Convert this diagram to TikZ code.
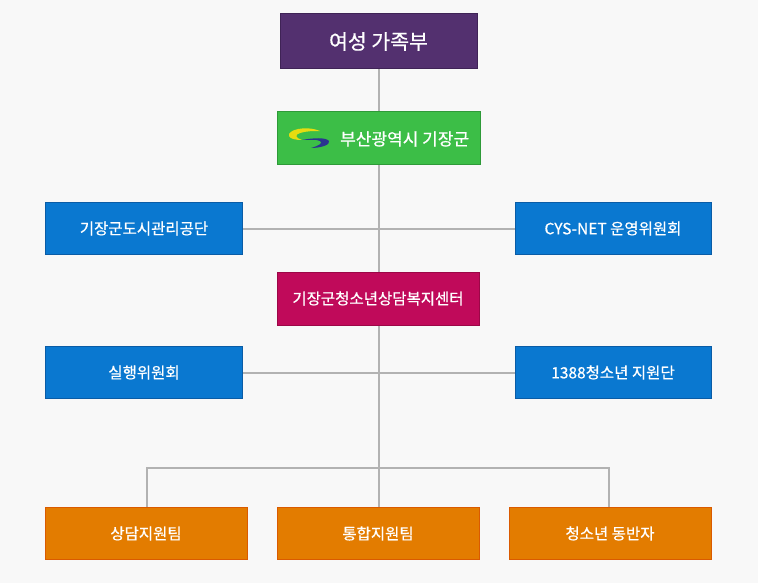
\documentclass[tikz,border=0pt]{standalone}
\usepackage{fontspec}
\usetikzlibrary{backgrounds}
\newfontfamily\kr[FakeBold=0.6]{Noto Sans CJK KR}
\definecolor{bgc}{HTML}{F8F8F8}
\definecolor{purp}{HTML}{53306F}
\definecolor{purpd}{HTML}{3F2356}
\definecolor{grn}{HTML}{3CBE47}
\definecolor{grnd}{HTML}{2E9A38}
\definecolor{blu}{HTML}{0A78D0}
\definecolor{blud}{HTML}{0A5CA6}
\definecolor{mag}{HTML}{C00A5A}
\definecolor{magd}{HTML}{9C0747}
\definecolor{org}{HTML}{E37C00}
\definecolor{orgd}{HTML}{DA5A00}
\definecolor{lin}{HTML}{B2B2B2}
\definecolor{lyel}{HTML}{E6DC10}
\definecolor{lblu}{HTML}{2A3490}
\begin{document}
\begin{tikzpicture}[x=1pt,y=-1pt,
  box/.style={draw, line width=1pt, inner sep=0pt, text=white, font=\kr\fontsize{15.5}{17}\selectfont},
  wide/.style={minimum width=197pt, minimum height=52pt},
  conn/.style={draw=lin, line width=2pt}]
\useasboundingbox (0,0) rectangle (758,583);
\node[box, wide, fill=purp, draw=purpd, minimum height=55pt, font=\kr\fontsize{20.5}{22}\selectfont] (top) at (378.5,41.5) {여성 가족부};
\node[box, fill=grn, draw=grnd, minimum width=203pt, minimum height=53pt] (gun) at (378.5,138.5) {};
\node[box, wide, fill=blu, draw=blud] (l1) at (144,228.5) {기장군도시관리공단};
\node[box, wide, fill=blu, draw=blud, minimum width=196pt] (r1) at (613,228.5) {CYS-NET 운영위원회};
\node[box, fill=mag, draw=magd, minimum width=202pt, minimum height=53pt] (ctr) at (378,298.5) {기장군청소년상담복지센터};
\node[box, wide, fill=blu, draw=blud] (l2) at (144,372.5) {실행위원회};
\node[box, wide, fill=blu, draw=blud, minimum width=196pt] (r2) at (613,372.5) {1388청소년 지원단};
\node[box, wide, fill=org, draw=orgd, minimum width=202pt] (o1) at (146,533.5) {상담지원팀};
\node[box, wide, fill=org, draw=orgd, minimum width=202pt] (o2) at (378,533.5) {통합지원팀};
\node[box, wide, fill=org, draw=orgd, minimum width=202pt] (o3) at (610,533.5) {청소년 동반자};
\node[text=white, font=\kr\fontsize{17}{19}\selectfont, anchor=west, inner sep=0pt] (gt) at (340,139) {부산광역시 기장군};
\coordinate (bj) at (379,468);
\coordinate (bl) at (147,468);
\coordinate (br) at (609,468);
% logo
\fill[lyel] (320,131) .. controls (305,125) and (287,130) .. (289,136)
  .. controls (290,139) and (296,140) .. (302,140)
  .. controls (296,138) and (294,135) .. (300,133)
  .. controls (306,131) and (314,131) .. (320,131) -- cycle;
\fill[lblu] (302,140) .. controls (312,138) and (326,137) .. (329,141)
  .. controls (331,145) and (320,148) .. (311,148)
  .. controls (318,146) and (324,143) .. (320,141)
  .. controls (316,139) and (308,140) .. (302,140) -- cycle;
\begin{scope}[on background layer]
\fill[bgc] (0,0) rectangle (758,583);
\path[conn] (top.south -| bj) -- (gun.north -| bj);
\path[conn] (gun.south -| bj) -- (ctr.north -| bj);
\path[conn] (l1.east) -- (r1.west);
\path[conn] (ctr.south -| bj) -- (bj);
\path[conn] (l2.east) -- (r2.west);
\path[conn] (bj) -- (o2.north -| bj);
\path[conn] (o1.north -| bl) -- (bl) -- (br) -- (o3.north -| br);
\end{scope}
\end{tikzpicture}
\end{document}
